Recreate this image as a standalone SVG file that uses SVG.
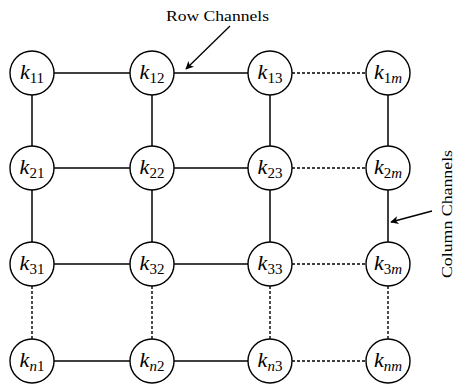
<svg xmlns="http://www.w3.org/2000/svg" width="457" height="384" viewBox="0 0 457 384">
  <style>
    .node circle { fill: #fff; stroke: #000; stroke-width: 1.4; }
    .node text { font-family: "Liberation Serif", "DejaVu Serif", serif; font-size: 22px; text-anchor: middle; fill: #000; }
    .it { font-style: italic; }
    .sub { font-size: 15px; }
    .solid { stroke: #000; stroke-width: 1.5; fill: none; }
    .dash { stroke: #000; stroke-width: 1.4; fill: none; stroke-dasharray: 3 2; }
    .ptr { stroke: #000; stroke-width: 1.3; fill: none; marker-end: url(#head); }
    .caption { font-family: "Liberation Serif", "DejaVu Serif", serif; font-size: 15px; fill: #000; }
  </style>
  <defs>
    <marker id="head" viewBox="0 0 10 10" refX="9" refY="5" markerWidth="8" markerHeight="8" markerUnits="userSpaceOnUse" orient="auto">
      <path d="M0,0 L10,5 L0,10 L2.5,5 Z" fill="#000"/>
    </marker>
  </defs>
  <rect width="457" height="384" fill="#fff"/>

  <!-- channels between nodes -->
  <g id="connectors">
    <!-- rows -->
    <line class="solid" x1="54" y1="73" x2="130" y2="73"/>
    <line class="solid" x1="174" y1="73" x2="248" y2="73"/>
    <line class="dash" x1="292" y1="73" x2="366" y2="73"/>
    <line class="solid" x1="54" y1="168" x2="130" y2="168"/>
    <line class="solid" x1="174" y1="168" x2="248" y2="168"/>
    <line class="dash" x1="292" y1="168" x2="366" y2="168"/>
    <line class="solid" x1="54" y1="264" x2="130" y2="264"/>
    <line class="solid" x1="174" y1="264" x2="248" y2="264"/>
    <line class="dash" x1="292" y1="264" x2="366" y2="264"/>
    <line class="solid" x1="54" y1="361" x2="130" y2="361"/>
    <line class="solid" x1="174" y1="361" x2="248" y2="361"/>
    <line class="dash" x1="292" y1="361" x2="366" y2="361"/>
    <!-- columns -->
    <line class="solid" x1="32" y1="95" x2="32" y2="146"/>
    <line class="solid" x1="152" y1="95" x2="152" y2="146"/>
    <line class="solid" x1="270" y1="95" x2="270" y2="146"/>
    <line class="solid" x1="388" y1="95" x2="388" y2="146"/>
    <line class="solid" x1="32" y1="190" x2="32" y2="242"/>
    <line class="solid" x1="152" y1="190" x2="152" y2="242"/>
    <line class="solid" x1="270" y1="190" x2="270" y2="242"/>
    <line class="solid" x1="388" y1="190" x2="388" y2="242"/>
    <line class="dash" x1="32" y1="286" x2="32" y2="339"/>
    <line class="dash" x1="152" y1="286" x2="152" y2="339"/>
    <line class="dash" x1="270" y1="286" x2="270" y2="339"/>
    <line class="dash" x1="388" y1="286" x2="388" y2="339"/>
    <!-- caption pointers -->
    <line class="ptr" x1="230" y1="26" x2="186" y2="69"/>
    <line class="ptr" x1="432" y1="211" x2="391" y2="222"/>
  </g>

  <text class="caption" x="166" y="21" textLength="103" lengthAdjust="spacingAndGlyphs">Row Channels</text>
  <text class="caption" transform="translate(452,278) rotate(-90)" x="0" y="0" textLength="128" lengthAdjust="spacingAndGlyphs">Column Channels</text>

  <g id="k11" class="node"><circle cx="32" cy="73" r="22"/><text x="32" y="79"><tspan class="it">k</tspan><tspan class="sub" dy="4">11</tspan></text></g>
  <g id="k12" class="node"><circle cx="152" cy="73" r="22"/><text x="152" y="79"><tspan class="it">k</tspan><tspan class="sub" dy="4">12</tspan></text></g>
  <g id="k13" class="node"><circle cx="270" cy="73" r="22"/><text x="270" y="79"><tspan class="it">k</tspan><tspan class="sub" dy="4">13</tspan></text></g>
  <g id="k1m" class="node"><circle cx="388" cy="73" r="22"/><text x="388" y="79"><tspan class="it">k</tspan><tspan class="sub" dy="4">1</tspan><tspan class="sub it">m</tspan></text></g>

  <g id="k21" class="node"><circle cx="32" cy="168" r="22"/><text x="32" y="174"><tspan class="it">k</tspan><tspan class="sub" dy="4">21</tspan></text></g>
  <g id="k22" class="node"><circle cx="152" cy="168" r="22"/><text x="152" y="174"><tspan class="it">k</tspan><tspan class="sub" dy="4">22</tspan></text></g>
  <g id="k23" class="node"><circle cx="270" cy="168" r="22"/><text x="270" y="174"><tspan class="it">k</tspan><tspan class="sub" dy="4">23</tspan></text></g>
  <g id="k2m" class="node"><circle cx="388" cy="168" r="22"/><text x="388" y="174"><tspan class="it">k</tspan><tspan class="sub" dy="4">2</tspan><tspan class="sub it">m</tspan></text></g>

  <g id="k31" class="node"><circle cx="32" cy="264" r="22"/><text x="32" y="270"><tspan class="it">k</tspan><tspan class="sub" dy="4">31</tspan></text></g>
  <g id="k32" class="node"><circle cx="152" cy="264" r="22"/><text x="152" y="270"><tspan class="it">k</tspan><tspan class="sub" dy="4">32</tspan></text></g>
  <g id="k33" class="node"><circle cx="270" cy="264" r="22"/><text x="270" y="270"><tspan class="it">k</tspan><tspan class="sub" dy="4">33</tspan></text></g>
  <g id="k3m" class="node"><circle cx="388" cy="264" r="22"/><text x="388" y="270"><tspan class="it">k</tspan><tspan class="sub" dy="4">3</tspan><tspan class="sub it">m</tspan></text></g>

  <g id="kn1" class="node"><circle cx="32" cy="361" r="22"/><text x="32" y="367"><tspan class="it">k</tspan><tspan class="sub it" dy="4">n</tspan><tspan class="sub">1</tspan></text></g>
  <g id="kn2" class="node"><circle cx="152" cy="361" r="22"/><text x="152" y="367"><tspan class="it">k</tspan><tspan class="sub it" dy="4">n</tspan><tspan class="sub">2</tspan></text></g>
  <g id="kn3" class="node"><circle cx="270" cy="361" r="22"/><text x="270" y="367"><tspan class="it">k</tspan><tspan class="sub it" dy="4">n</tspan><tspan class="sub">3</tspan></text></g>
  <g id="knm" class="node"><circle cx="388" cy="361" r="22"/><text x="388" y="367"><tspan class="it">k</tspan><tspan class="sub it" dy="4">nm</tspan></text></g>
</svg>
